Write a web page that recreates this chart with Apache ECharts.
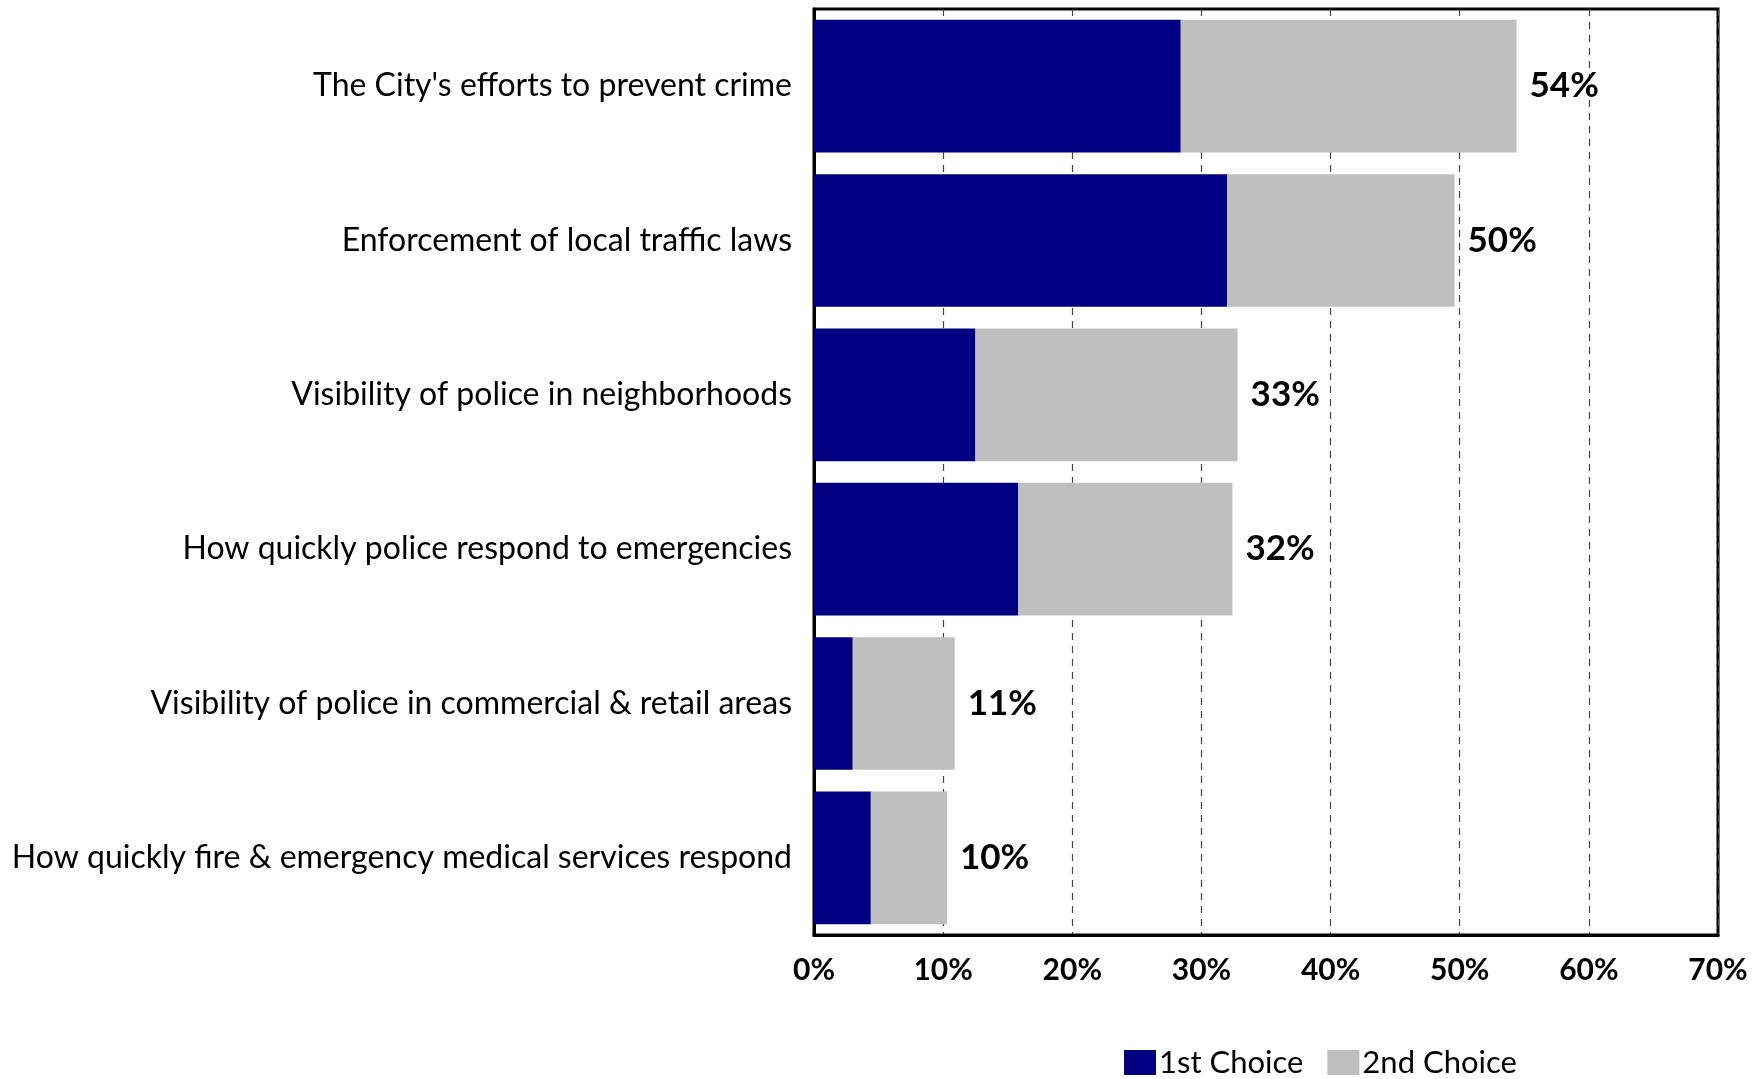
<!DOCTYPE html>
<html><head><meta charset="utf-8">
<script src="https://cdn.jsdelivr.net/npm/echarts@6/dist/echarts.min.js"></script>
<style>html,body{margin:0;padding:0;background:#fff}#c{width:1762px;height:1079px}</style>
</head><body><div id="c"></div>
<script>
const categories = [
  "The City's efforts to prevent crime",
  "Enforcement of local traffic laws",
  "Visibility of police in neighborhoods",
  "How quickly police respond to emergencies",
  "Visibility of police in commercial & retail areas",
  "How quickly fire & emergency medical services respond"
];
const firstChoice = [28.4, 32.0, 12.5, 15.8, 3.0, 4.4];
const secondChoice = [26.0, 17.6, 20.3, 16.6, 7.9, 5.9];
const totalLabels = ["54%", "50%", "33%", "32%", "11%", "10%"];
const xTicks = [0, 10, 20, 30, 40, 50, 60, 70];

const FONT = 'Lato';
const chart = echarts.init(document.getElementById('c'));
chart.setOption({
  backgroundColor: '#fff',
  animation: false,
  textStyle: { fontFamily: FONT },
  grid: { left: 814, right: 44, top: 9, bottom: 144, show: true, borderColor: '#000', borderWidth: 3, containLabel: false },
  legend: {
    bottom: -4, left: 1119, itemWidth: 32, itemHeight: 25, itemGap: 24, icon: 'rect',
    textStyle: { fontSize: 31, color: '#000', fontFamily: FONT, padding: [0, 0, 0, -2] },
    data: ['1st Choice', '2nd Choice']
  },
  xAxis: {
    type: 'value', min: xTicks[0], max: xTicks[xTicks.length - 1], interval: 10,
    axisLine: { show: true, lineStyle: { color: '#000', width: 3 } },
    axisTick: { show: false },
    splitLine: { show: true, lineStyle: { color: '#444', type: [7, 6], width: 1.2 } },
    axisLabel: { formatter: v => v + '%', fontSize: 30, fontWeight: 'bold', color: '#000', margin: 20, fontFamily: FONT }
  },
  yAxis: {
    type: 'category', data: categories, inverse: true,
    axisLine: { show: true, lineStyle: { color: '#000', width: 3 } },
    axisTick: { show: false },
    axisLabel: { fontSize: 32, color: '#000', margin: 22, fontFamily: FONT }
  },
  series: [
    { name: '1st Choice', type: 'bar', stack: 't', data: firstChoice, barCategoryGap: '14%',
      itemStyle: { color: '#000080' } },
    { name: '2nd Choice', type: 'bar', stack: 't', data: secondChoice,
      itemStyle: { color: '#bfbfbf' },
      label: { show: true, position: 'right', distance: 13, formatter: p => totalLabels[p.dataIndex],
        fontSize: 35, fontWeight: 'bold', color: '#000', fontFamily: FONT } }
  ]
});
</script></body></html>
